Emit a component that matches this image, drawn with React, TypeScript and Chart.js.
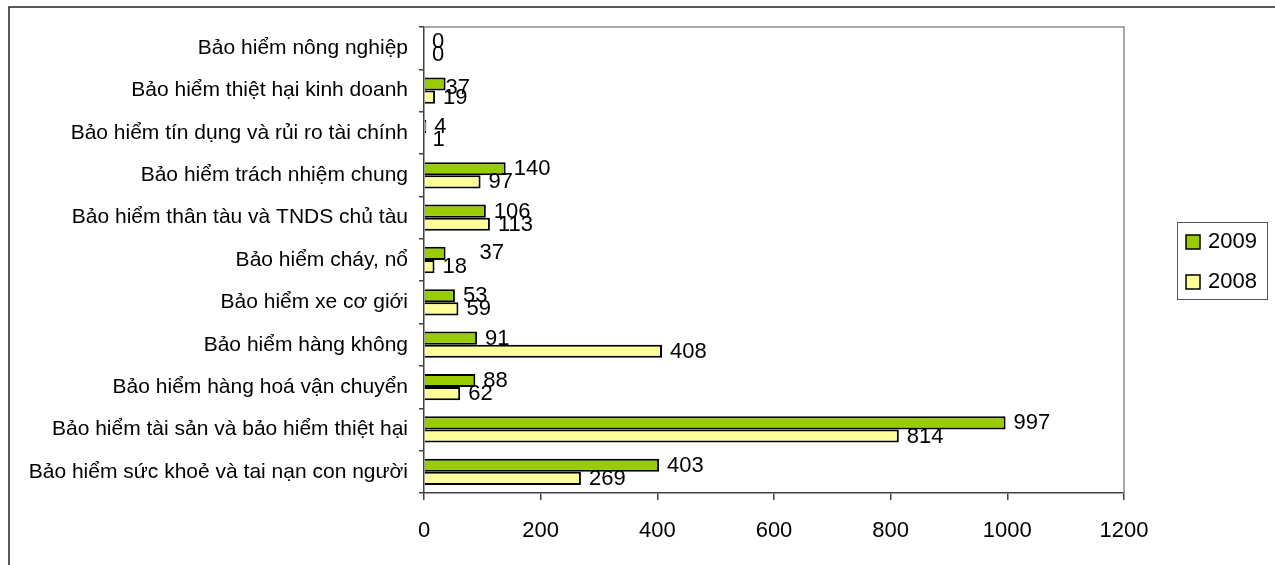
import { useEffect, useRef } from 'react';
import { Chart, registerables } from 'chart.js';

Chart.register(...registerables);

// Insurance lines, listed top to bottom
const categories = [
  'Bảo hiểm nông nghiệp',
  'Bảo hiểm thiệt hại kinh doanh',
  'Bảo hiểm tín dụng và rủi ro tài chính',
  'Bảo hiểm trách nhiệm chung',
  'Bảo hiểm thân tàu và TNDS chủ tàu',
  'Bảo hiểm cháy, nổ',
  'Bảo hiểm xe cơ giới',
  'Bảo hiểm hàng không',
  'Bảo hiểm hàng hoá vận chuyển',
  'Bảo hiểm tài sản và bảo hiểm thiệt hại',
  'Bảo hiểm sức khoẻ và tai nạn con người',
];

const seriesNames = ['2009', '2008'];
const values2009 = [0, 37, 4, 140, 106, 37, 53, 91, 88, 997, 403];
const values2008 = [0, 19, 1, 97, 113, 18, 59, 408, 62, 814, 269];

const axisMin = 0;
const axisMax = 1200;
const axisStep = 200;

const FONT = '"Liberation Sans", Arial, Helvetica, sans-serif';
const COLOR_2009 = '#99CC00';
const COLOR_2008 = '#FFFF99';

// Hand-placed value labels: [datasetIndex:categoryIndex] -> [dx, dy]
const labelNudges: Record<string, [number, number]> = {
  '0:1': [-8, 3],
  '0:5': [26, -1],
};

const framePlugin = {
  id: 'frame',
  beforeDraw(chart: any) {
    const { ctx, width, height } = chart;
    ctx.save();
    ctx.fillStyle = '#fff';
    ctx.fillRect(0, 0, width, height);
    ctx.strokeStyle = '#222';
    ctx.lineWidth = 1.5;
    ctx.beginPath();
    ctx.moveTo(9, height + 5);
    ctx.lineTo(9, 7);
    ctx.lineTo(width + 5, 7);
    ctx.stroke();
    ctx.restore();
  },
  afterDatasetsDraw(chart: any) {
    const { ctx, chartArea } = chart;
    ctx.save();
    ctx.strokeStyle = '#8c8c8c';
    ctx.lineWidth = 1.5;
    ctx.beginPath();
    ctx.moveTo(chartArea.left, chartArea.top);
    ctx.lineTo(chartArea.right, chartArea.top);
    ctx.lineTo(chartArea.right, chartArea.bottom);
    ctx.stroke();
    ctx.restore();
  },
};

const valueLabelPlugin = {
  id: 'valueLabels',
  afterDatasetsDraw(chart: any) {
    const { ctx } = chart;
    ctx.save();
    ctx.font = `22px ${FONT}`;
    ctx.fillStyle = '#000';
    ctx.textAlign = 'left';
    ctx.textBaseline = 'middle';
    chart.data.datasets.forEach((ds: any, di: number) => {
      const meta = chart.getDatasetMeta(di);
      meta.data.forEach((bar: any, i: number) => {
        const nudge = labelNudges[`${di}:${i}`] || [0, 0];
        ctx.fillText(String(ds.data[i]), bar.x + 8 + nudge[0], bar.y + 0.5 + nudge[1]);
      });
    });
    ctx.restore();
  },
};

const legendBoxPlugin = {
  id: 'legendBox',
  afterDraw(chart: any) {
    const { ctx } = chart;
    const left = 1177;
    const top = 222;
    const w = 90;
    const h = 77;
    ctx.save();
    ctx.strokeStyle = '#555';
    ctx.lineWidth = 1;
    ctx.strokeRect(left + 0.5, top + 0.5, w, h);
    ctx.font = `22px ${FONT}`;
    ctx.textBaseline = 'middle';
    ctx.textAlign = 'left';
    chart.data.datasets.forEach((ds: any, i: number) => {
      const cy = top + 20 + i * 40;
      ctx.fillStyle = ds.backgroundColor;
      ctx.fillRect(1186, cy - 7, 14, 14);
      ctx.strokeStyle = '#000';
      ctx.lineWidth = 1.5;
      ctx.strokeRect(1186, cy - 7, 14, 14);
      ctx.fillStyle = '#000';
      ctx.fillText(ds.label, 1208, cy);
    });
    ctx.restore();
  },
};

export default function App() {
  const canvasRef = useRef<HTMLCanvasElement>(null);

  useEffect(() => {
    if (!canvasRef.current) return;
    const chart = new Chart(canvasRef.current, {
      type: 'bar',
      data: {
        labels: categories,
        datasets: [
          {
            label: seriesNames[0],
            data: values2009,
            backgroundColor: COLOR_2009,
            borderColor: '#000',
            borderWidth: 2,
          },
          {
            label: seriesNames[1],
            data: values2008,
            backgroundColor: COLOR_2008,
            borderColor: '#000',
            borderWidth: 2,
          },
        ],
      },
      options: {
        indexAxis: 'y',
        responsive: false,
        animation: false,
        layout: { padding: { top: 27, right: 151, left: 0, bottom: 0 } },
        datasets: { bar: { categoryPercentage: 0.62, barPercentage: 1 } },
        plugins: {
          legend: { display: false },
          tooltip: { enabled: false },
        },
        scales: {
          x: {
            type: 'linear',
            min: axisMin,
            max: axisMax,
            ticks: {
              stepSize: axisStep,
              color: '#000',
              font: { family: FONT, size: 22 },
              padding: 18,
              callback: (v: any) => String(v),
            },
            grid: {
              drawOnChartArea: false,
              drawTicks: true,
              tickLength: 7,
              color: '#404040',
              lineWidth: 1.5,
            },
            border: { display: true, color: '#404040', width: 1.5 },
            afterFit: (scale: any) => {
              scale.height = 72;
            },
          },
          y: {
            ticks: {
              color: '#000',
              font: { family: FONT, size: 21 },
              padding: 11,
              autoSkip: false,
            },
            grid: {
              drawOnChartArea: false,
              drawTicks: true,
              tickLength: 5,
              color: '#404040',
              lineWidth: 1.5,
              offset: true,
            },
            border: { display: true, color: '#404040', width: 1.5 },
            afterFit: (scale: any) => {
              scale.width = 424;
            },
          },
        },
      } as any,
      plugins: [framePlugin, valueLabelPlugin, legendBoxPlugin],
    });
    return () => chart.destroy();
  }, []);

  return (
    <div style={{ position: 'fixed', left: 0, top: 0, width: 1275, height: 565, background: '#fff' }}>
      <canvas ref={canvasRef} width={1275} height={565} style={{ display: 'block' }} />
    </div>
  );
}
